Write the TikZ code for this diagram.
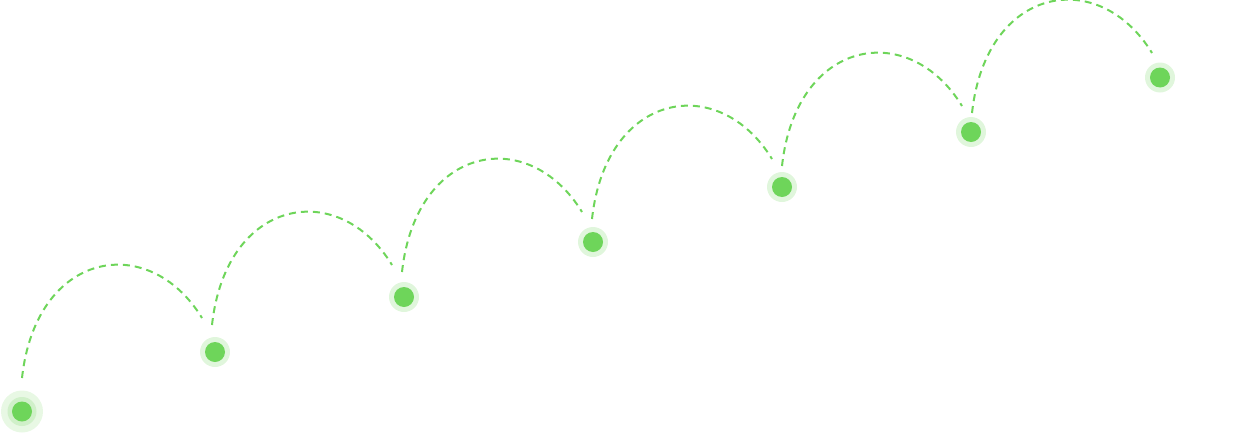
\documentclass[tikz,border=0pt]{standalone}
\usetikzlibrary{calc}
\definecolor{dotgreen}{RGB}{110,213,90}
\definecolor{halogreen}{RGB}{224,246,220}
\definecolor{midgreen}{RGB}{208,240,201}
\definecolor{outergreen}{RGB}{232,248,228}
\begin{document}
\begin{tikzpicture}[x=1pt,y=-1pt,
  dotnode/.style={circle,fill=dotgreen,inner sep=0pt,minimum size=20pt},
  halonode/.style={circle,fill=halogreen,inner sep=0pt,minimum size=30pt},
  midring/.style={circle,fill=midgreen,inner sep=0pt,minimum size=29pt},
  outerring/.style={circle,fill=outergreen,inner sep=0pt,minimum size=42pt},
  hop/.style={draw=dotgreen,line width=2pt,dash pattern=on 7pt off 5pt}]
\useasboundingbox (0,0) rectangle (1255,434);
% first (start) dot
\node[outerring] (o1) at (22,411.5) {};
\node[midring] (m1) at (o1) {};
\node[dotnode] (d1) at (o1) {};
% other dots
\foreach \i/\x/\y in {2/215/352,3/404/297,4/593/242,5/782/187,6/971/132,7/1160/77.5}{
  \node[halonode] (h\i) at (\x,\y) {};
  \node[dotnode] (d\i) at (h\i) {};
}
% arcs
\foreach \i/\x/\y in {1/22/378,2/212/325,3/402/272,4/592/219,5/782/166,6/972/113}{
  \coordinate (s\i) at (\x,\y);
  \coordinate (e\i) at (\x+180,\y-60);
  \draw[hop] (s\i) .. controls ($(s\i)+(14,-128)$) and ($(s\i)+(127,-147)$) .. (e\i);
}
\end{tikzpicture}
\end{document}
